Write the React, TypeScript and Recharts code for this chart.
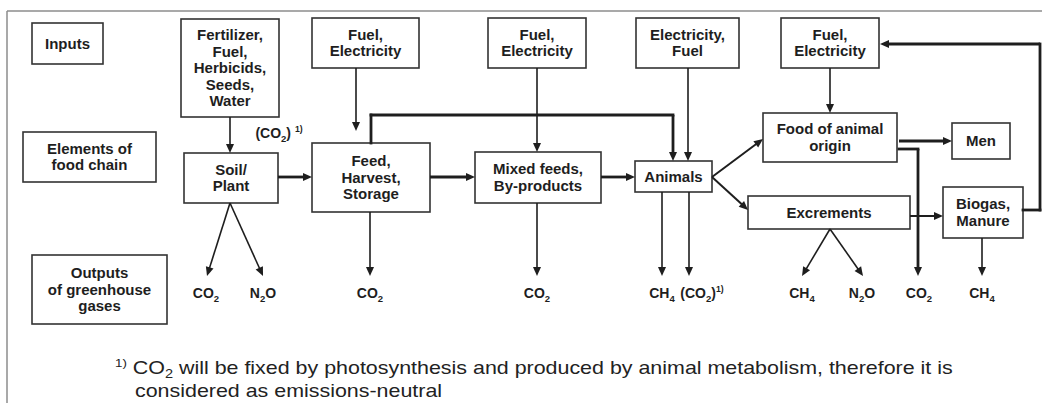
import React from "react";
import { ReferenceArea, ReferenceLine, Scatter, ScatterChart, XAxis, YAxis } from "recharts";

type Pt = [number, number];
type Box = { lines: string[]; x1: number; x2: number; y1: number; y2: number };
type Note = { x: number; y: number; text: string };

// diagram space is 1042 x 403, y grows downwards
const W = 1042;
const H = 403;

const rowHeaders: Box[] = [
  { lines: ["Inputs"], x1: 32, x2: 103, y1: 23, y2: 64 },
  { lines: ["Elements of", "food chain"], x1: 23, x2: 156, y1: 132, y2: 182 },
  { lines: ["Outputs", "of greenhouse", "gases"], x1: 32, x2: 167, y1: 255, y2: 324 },
];

const inputBoxes: Box[] = [
  { lines: ["Fertilizer,", "Fuel,", "Herbicids,", "Seeds,", "Water"], x1: 181, x2: 279, y1: 19, y2: 117 },
  { lines: ["Fuel,", "Electricity"], x1: 312, x2: 419, y1: 18, y2: 68 },
  { lines: ["Fuel,", "Electricity"], x1: 488, x2: 586, y1: 18, y2: 68 },
  { lines: ["Electricity,", "Fuel"], x1: 636, x2: 739, y1: 18, y2: 68 },
  { lines: ["Fuel,", "Electricity"], x1: 781, x2: 879, y1: 18, y2: 68 },
];

const chainBoxes: Box[] = [
  { lines: ["Soil/", "Plant"], x1: 184, x2: 278, y1: 153, y2: 203 },
  { lines: ["Feed,", "Harvest,", "Storage"], x1: 312, x2: 430, y1: 143, y2: 212 },
  { lines: ["Mixed feeds,", "By-products"], x1: 475, x2: 601, y1: 152, y2: 203 },
  { lines: ["Animals"], x1: 635, x2: 712, y1: 161, y2: 192 },
  { lines: ["Food of animal", "origin"], x1: 763, x2: 897, y1: 113, y2: 162 },
  { lines: ["Men"], x1: 952, x2: 1010, y1: 123, y2: 159 },
  { lines: ["Excrements"], x1: 748, x2: 910, y1: 196, y2: 229 },
  { lines: ["Biogas,", "Manure"], x1: 943, x2: 1023, y1: 187, y2: 238 },
];

const inputArrows: Pt[][] = [
  [[230, 117], [230, 153]],
  [[356, 68], [356, 131]],
  [[537, 68], [537, 152]],
  [[688, 68], [688, 161]],
  [[830, 68], [830, 113]],
];

const flowArrows: Pt[][] = [
  [[278, 177], [312, 177]],
  [[430, 177], [475, 177]],
  [[601, 177], [635, 177]],
  [[371, 143], [371, 115], [673, 115], [673, 161]],
  [[899, 141], [952, 141]],
  [[899, 149], [918, 149], [918, 276]],
  [[1023, 210], [1040, 210], [1040, 44], [880, 44]],
];

const branchArrows: Pt[][] = [
  [[712, 177], [763, 139]],
  [[712, 177], [748, 210]],
  [[910, 216], [943, 216]],
];

const emissionArrows: Pt[][] = [
  [[230, 203], [207, 276]],
  [[230, 203], [263, 276]],
  [[370, 212], [370, 276]],
  [[537, 203], [537, 276]],
  [[662, 192], [662, 276]],
  [[689, 192], [689, 276]],
  [[830, 229], [802, 276]],
  [[830, 229], [863, 276]],
  [[982, 238], [982, 276]],
];

const gasLabels: Note[] = [
  { x: 206, y: 298, text: "CO_{2}" },
  { x: 263, y: 298, text: "N_{2}O" },
  { x: 370, y: 298, text: "CO_{2}" },
  { x: 537, y: 298, text: "CO_{2}" },
  { x: 662, y: 298, text: "CH_{4}" },
  { x: 702, y: 298, text: "(CO_{2})^{1)}" },
  { x: 802, y: 298, text: "CH_{4}" },
  { x: 862, y: 298, text: "N_{2}O" },
  { x: 919, y: 298, text: "CO_{2}" },
  { x: 982, y: 298, text: "CH_{4}" },
  { x: 279, y: 138, text: "(CO_{2}) ^{1)}" },
];

const footnoteLines: Note[] = [
  { x: 115, y: 374, text: "^{1)} CO_{2} will be fixed by photosynthesis and produced by animal metabolism, therefore it is" },
  { x: 135, y: 397, text: "considered as emissions-neutral" },
];

const framePath: Pt[] = [[7, H], [7, 11], [W, 11]];

const INK = "#1e1e1e";
const FONT = "'Liberation Sans', Arial, Helvetica, sans-serif";

function rich(text: string, size: number) {
  const parts = text.split(/(\^\{[^}]*\}|_\{[^}]*\})/).filter(Boolean);
  let off = 0;
  return parts.map((p, i) => {
    let shift = 0;
    let s = size;
    let t = p;
    if (p.startsWith("^{")) {
      shift = -size * 0.42;
      s = size * 0.62;
      t = p.slice(2, -1);
    } else if (p.startsWith("_{")) {
      shift = size * 0.25;
      s = size * 0.68;
      t = p.slice(2, -1);
    }
    const dy = shift - off;
    off = shift;
    return (
      <tspan key={i} dy={dy} fontSize={s} style={{ whiteSpace: "pre" }}>
        {t}
      </tspan>
    );
  });
}

const boxShape = (b: Box) => (p: any) => {
  const lh = 16.5;
  const cy = p.y + p.height / 2;
  const top = cy - ((b.lines.length - 1) * lh) / 2;
  return (
    <g>
      <rect x={p.x} y={p.y} width={p.width} height={p.height} fill="#fff" stroke="#333" strokeWidth={1.6} />
      <text
        x={p.x + p.width / 2}
        textAnchor="middle"
        fontFamily={FONT}
        fontWeight="bold"
        fontSize={15}
        fill={INK}
      >
        {b.lines.map((l, i) => (
          <tspan key={i} x={p.x + p.width / 2} y={top + i * lh + 5}>
            {l}
          </tspan>
        ))}
      </text>
    </g>
  );
};

const segShape = (w: number, head: boolean) => (p: any) => {
  const { x1, y1, x2, y2 } = p;
  const len = Math.hypot(x2 - x1, y2 - y1) || 1;
  const ux = (x2 - x1) / len;
  const uy = (y2 - y1) / len;
  const hl = 9;
  const hw = 4;
  const ex = head ? x2 - ux * (hl - 1) : x2;
  const ey = head ? y2 - uy * (hl - 1) : y2;
  const bx = x2 - ux * hl;
  const by = y2 - uy * hl;
  return (
    <g>
      <line x1={x1} y1={y1} x2={ex} y2={ey} stroke={INK} strokeWidth={w} strokeLinecap={head ? "butt" : "square"} />
      {head && (
        <polygon
          points={`${x2},${y2} ${bx - uy * hw},${by + ux * hw} ${bx + uy * hw},${by - ux * hw}`}
          fill={INK}
        />
      )}
    </g>
  );
};

function arrows(paths: Pt[][], w: number, key: string, head = true) {
  return paths.flatMap((pts, pi) =>
    pts.slice(1).map((pt, si) => (
      <ReferenceLine
        key={`${key}-${pi}-${si}`}
        segment={[
          { x: pts[si][0], y: pts[si][1] },
          { x: pt[0], y: pt[1] },
        ]}
        ifOverflow="visible"
        shape={segShape(w, head && si === pts.length - 2)}
      />
    ))
  );
}

const GasShape = (p: any) => (
  <text x={p.cx} y={p.cy} textAnchor="middle" fontFamily={FONT} fontWeight="bold" fontSize={14} fill={INK}>
    {rich(p.payload.text, 14)}
  </text>
);

const NoteShape = (p: any) => (
  <text
    transform={`translate(${p.cx},${p.cy}) scale(1.225,1)`}
    x={0}
    y={0}
    fontFamily={FONT}
    fontSize={17.5}
    fill="#222"
  >
    {rich(p.payload.text, 17.5)}
  </text>
);

export default function App() {
  const boxes = [...rowHeaders, ...inputBoxes, ...chainBoxes];
  return (
    <div style={{ position: "absolute", left: 0, top: 0, background: "#fff" }}>
      <ScatterChart width={W} height={H} margin={{ top: 0, right: 0, bottom: 0, left: 0 }}>
        <XAxis type="number" dataKey="x" domain={[0, W]} allowDataOverflow hide />
        <YAxis type="number" dataKey="y" domain={[0, H]} allowDataOverflow reversed hide />
        {framePath.slice(1).map((pt, i) => (
          <ReferenceLine
            key={`frame-${i}`}
            segment={[
              { x: framePath[i][0], y: framePath[i][1] },
              { x: pt[0], y: pt[1] },
            ]}
            ifOverflow="visible"
            stroke="#8c8c8c"
            strokeWidth={1.5}
          />
        ))}
        {arrows(inputArrows, 1.6, "in")}
        {arrows(emissionArrows, 1.6, "out")}
        {arrows(branchArrows, 2, "br")}
        {arrows(flowArrows, 2.8, "flow")}
        {boxes.map((b, i) => (
          <ReferenceArea
            key={`box-${i}`}
            x1={b.x1}
            x2={b.x2}
            y1={b.y1}
            y2={b.y2}
            ifOverflow="visible"
            shape={boxShape(b)}
          />
        ))}
        <Scatter data={gasLabels} shape={GasShape} isAnimationActive={false} />
        <Scatter data={footnoteLines} shape={NoteShape} isAnimationActive={false} />
      </ScatterChart>
    </div>
  );
}
